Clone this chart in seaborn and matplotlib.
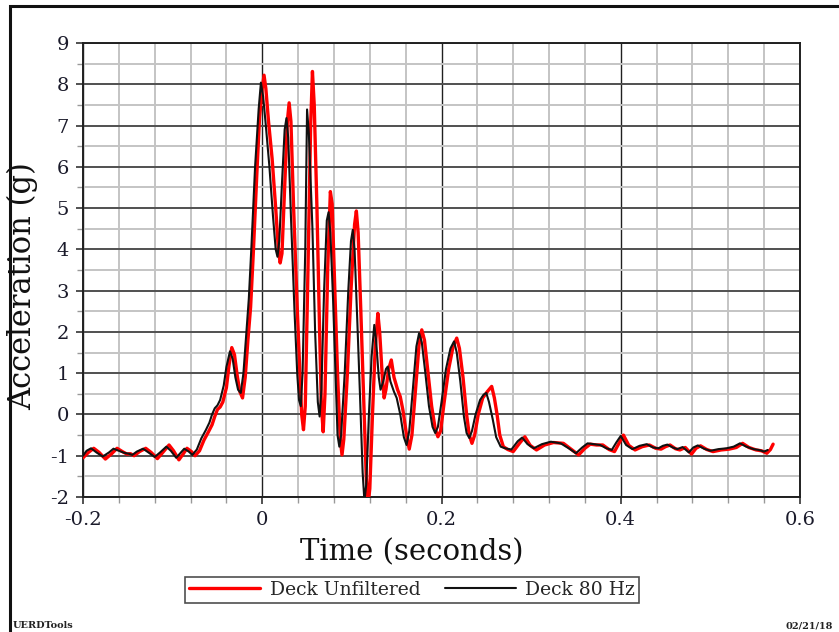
import numpy as np
import pandas as pd
import matplotlib
matplotlib.use("Agg")
import matplotlib.pyplot as plt
import seaborn as sns
from matplotlib.ticker import MultipleLocator
from matplotlib.patches import Rectangle

# ---------------- data ----------------
red_t = [-0.200, -0.194, -0.188, -0.182, -0.175, -0.168, -0.162, -0.156, -0.151, -0.147,
         -0.143, -0.137, -0.130, -0.124, -0.117, -0.111, -0.104, -0.099, -0.093, -0.088,
         -0.084, -0.079, -0.075, -0.070, -0.065, -0.060, -0.056, -0.053, -0.050, -0.047,
         -0.044, -0.040, -0.037, -0.034, -0.031, -0.028, -0.025, -0.022, -0.019, -0.016,
         -0.013, -0.010, -0.006, -0.003, 0.000, 0.002, 0.004, 0.007, 0.011, 0.015,
         0.018, 0.020, 0.022, 0.025, 0.028, 0.030, 0.032, 0.035, 0.039, 0.042,
         0.044, 0.046, 0.048, 0.051, 0.054, 0.056, 0.058, 0.061, 0.064, 0.066,
         0.068, 0.070, 0.073, 0.076, 0.078, 0.081, 0.084, 0.087, 0.089, 0.091,
         0.095, 0.099, 0.103, 0.105, 0.107, 0.110, 0.113, 0.116, 0.118, 0.120,
         0.123, 0.126, 0.129, 0.131, 0.134, 0.136, 0.138, 0.141, 0.144, 0.147,
         0.151, 0.154, 0.157, 0.161, 0.164, 0.167, 0.171, 0.175, 0.178, 0.181,
         0.185, 0.189, 0.193, 0.196, 0.199, 0.203, 0.208, 0.213, 0.217, 0.220,
         0.224, 0.228, 0.231, 0.234, 0.237, 0.241, 0.246, 0.251, 0.256, 0.259,
         0.262, 0.265, 0.269, 0.274, 0.280, 0.287, 0.293, 0.299, 0.306, 0.315,
         0.325, 0.336, 0.345, 0.353, 0.360, 0.366, 0.373, 0.380, 0.387, 0.393,
         0.398, 0.403, 0.409, 0.416, 0.424, 0.432, 0.439, 0.445, 0.450, 0.455,
         0.461, 0.466, 0.472, 0.479, 0.484, 0.489, 0.496, 0.503, 0.512, 0.521,
         0.529, 0.536, 0.543, 0.551, 0.557, 0.563, 0.567, 0.570]
red_v = [-1.05, -0.92, -0.82, -0.92, -1.08, -0.95, -0.82, -0.90, -0.96, -0.95,
         -1.00, -0.90, -0.82, -0.92, -1.07, -0.92, -0.74, -0.88, -1.10, -0.95,
         -0.82, -0.90, -1.00, -0.88, -0.62, -0.42, -0.25, -0.05, 0.12, 0.18,
         0.30, 0.65, 1.20, 1.62, 1.45, 0.95, 0.55, 0.40, 0.90, 1.80,
         2.60, 3.90, 5.85, 7.20, 7.90, 8.22, 7.90, 7.10, 6.20, 5.00,
         4.00, 3.67, 3.90, 5.50, 7.10, 7.55, 7.10, 5.00, 2.60, 1.00,
         0.00, -0.37, 0.20, 3.50, 7.00, 8.31, 7.50, 5.03, 2.00, 0.20,
         -0.42, 0.50, 3.50, 5.40, 5.10, 3.00, 1.00, -0.60, -0.98, -0.60,
         1.00, 3.00, 4.60, 4.93, 4.40, 2.50, 0.50, -1.50, -2.20, -1.80,
         0.00, 1.60, 2.45, 2.00, 0.90, 0.40, 0.60, 1.10, 1.32, 0.90,
         0.60, 0.43, 0.10, -0.50, -0.84, -0.50, 0.60, 1.70, 2.05, 1.80,
         1.00, 0.20, -0.35, -0.54, -0.40, 0.30, 1.10, 1.65, 1.85, 1.60,
         0.90, 0.00, -0.50, -0.70, -0.50, 0.00, 0.40, 0.55, 0.68, 0.40,
         0.00, -0.50, -0.78, -0.85, -0.90, -0.70, -0.54, -0.75, -0.86, -0.74,
         -0.68, -0.70, -0.85, -0.98, -0.82, -0.72, -0.74, -0.74, -0.85, -0.90,
         -0.70, -0.50, -0.75, -0.86, -0.78, -0.74, -0.82, -0.84, -0.78, -0.74,
         -0.83, -0.86, -0.80, -0.96, -0.82, -0.76, -0.85, -0.90, -0.86, -0.84,
         -0.80, -0.70, -0.80, -0.86, -0.88, -0.94, -0.85, -0.72]

blk_t = [-0.200, -0.196, -0.191, -0.185, -0.178, -0.171, -0.166, -0.160, -0.154, -0.149,
         -0.145, -0.140, -0.133, -0.127, -0.120, -0.114, -0.107, -0.102, -0.096, -0.091,
         -0.087, -0.082, -0.078, -0.073, -0.068, -0.063, -0.059, -0.056, -0.053, -0.050,
         -0.047, -0.043, -0.040, -0.036, -0.033, -0.030, -0.027, -0.024, -0.021, -0.018,
         -0.015, -0.012, -0.008, -0.004, -0.0015, 0.001, 0.004, 0.008, 0.012, 0.015,
         0.017, 0.019, 0.022, 0.025, 0.027, 0.029, 0.032, 0.036, 0.039, 0.041,
         0.043, 0.045, 0.048, 0.050, 0.052, 0.056, 0.059, 0.062, 0.064, 0.066,
         0.069, 0.072, 0.074, 0.076, 0.079, 0.082, 0.084, 0.086, 0.088, 0.092,
         0.096, 0.099, 0.101, 0.103, 0.106, 0.109, 0.112, 0.114, 0.116, 0.119,
         0.122, 0.125, 0.127, 0.130, 0.132, 0.135, 0.138, 0.140, 0.143, 0.147,
         0.150, 0.154, 0.158, 0.161, 0.164, 0.168, 0.172, 0.175, 0.178, 0.182,
         0.186, 0.190, 0.193, 0.196, 0.200, 0.205, 0.210, 0.214, 0.217, 0.221,
         0.225, 0.228, 0.231, 0.234, 0.238, 0.243, 0.247, 0.250, 0.253, 0.257,
         0.261, 0.266, 0.271, 0.278, 0.285, 0.290, 0.296, 0.303, 0.312, 0.322,
         0.333, 0.342, 0.350, 0.357, 0.363, 0.370, 0.377, 0.384, 0.390, 0.395,
         0.400, 0.406, 0.413, 0.421, 0.429, 0.436, 0.442, 0.447, 0.452, 0.458,
         0.463, 0.469, 0.476, 0.481, 0.486, 0.493, 0.500, 0.509, 0.518, 0.526,
         0.533, 0.540, 0.548, 0.554, 0.560, 0.564]
blk_v = [-1.00, -0.88, -0.82, -0.92, -1.02, -0.92, -0.83, -0.88, -0.93, -0.95,
         -0.98, -0.90, -0.83, -0.92, -1.03, -0.92, -0.78, -0.88, -1.05, -0.93,
         -0.83, -0.90, -0.98, -0.85, -0.58, -0.38, -0.20, 0.00, 0.15, 0.22,
         0.35, 0.70, 1.15, 1.53, 1.35, 0.90, 0.60, 0.52, 1.00, 1.90,
         2.80, 4.10, 6.00, 7.40, 8.04, 7.70, 7.00, 6.00, 4.80, 4.00,
         3.82, 4.20, 5.60, 6.90, 7.18, 6.70, 4.80, 2.50, 1.00, 0.35,
         0.20, 1.00, 4.00, 7.39, 6.80, 4.50, 2.00, 0.30, -0.05, 0.60,
         3.00, 4.70, 4.90, 4.40, 2.80, 0.80, -0.50, -0.78, -0.50, 1.00,
         3.00, 4.20, 4.47, 4.00, 2.30, 0.50, -1.40, -2.10, -1.70, 0.00,
         1.40, 2.17, 1.80, 0.90, 0.60, 0.80, 1.10, 1.16, 0.80, 0.55,
         0.40, 0.00, -0.55, -0.74, -0.40, 0.60, 1.65, 1.97, 1.75, 1.00,
         0.20, -0.30, -0.45, -0.30, 0.30, 1.10, 1.60, 1.77, 1.50, 0.80,
         -0.05, -0.45, -0.57, -0.40, 0.00, 0.35, 0.48, 0.52, 0.30, -0.10,
         -0.55, -0.78, -0.82, -0.85, -0.65, -0.56, -0.72, -0.82, -0.72, -0.66,
         -0.70, -0.82, -0.94, -0.80, -0.70, -0.72, -0.74, -0.82, -0.86, -0.68,
         -0.52, -0.74, -0.84, -0.76, -0.72, -0.80, -0.82, -0.76, -0.73, -0.80,
         -0.84, -0.79, -0.92, -0.80, -0.75, -0.83, -0.88, -0.84, -0.82, -0.78,
         -0.70, -0.78, -0.84, -0.86, -0.90, -0.86]

series_names = ["Deck Unfiltered", "Deck 80 Hz"]
x_ticks = [-0.2, 0, 0.2, 0.4, 0.6]
x_ticklabels = ["-0.2", "0", "0.2", "0.4", "0.6"]
y_ticks = list(range(-2, 10))
y_ticklabels = [str(v) for v in y_ticks]

df_red = pd.DataFrame({"t": red_t, "v": red_v})
df_blk = pd.DataFrame({"t": blk_t, "v": blk_v})

# ---------------- styling ----------------
sns.set_style("white")
plt.rcParams["font.family"] = ["DejaVu Serif", "DejaVu Sans"]

fig = plt.figure(figsize=(8.39, 6.32), dpi=100)
ax = fig.add_axes([83 / 839, 1 - 497 / 632, (800 - 83) / 839, (497 - 43) / 632])

sns.lineplot(data=df_red, x="t", y="v", ax=ax, color="#ff0000", lw=2.4,
             label=series_names[0], sort=False, zorder=4)
sns.lineplot(data=df_blk, x="t", y="v", ax=ax, color="#111111", lw=1.5,
             label=series_names[1], sort=False, zorder=5)

ax.set_xlim(-0.2, 0.6)
ax.set_ylim(-2, 9)
ax.xaxis.set_minor_locator(MultipleLocator(0.04))
ax.yaxis.set_minor_locator(MultipleLocator(0.5))
ax.set_xticks(x_ticks)
ax.set_xticklabels(x_ticklabels)
ax.set_yticks(y_ticks)
ax.set_yticklabels(y_ticklabels)

ax.grid(which="minor", color="#c4c4c4", lw=1.4, zorder=0)
ax.grid(which="major", axis="y", color="#505050", lw=1.4, zorder=1)
ax.grid(which="major", axis="x", color="#202020", lw=1.0, zorder=1)
ax.set_axisbelow(True)

for s in ax.spines.values():
    s.set_color("#202020")
    s.set_linewidth(1.4)

ax.tick_params(which="major", direction="out", length=5, width=1.2, color="#333",
               labelsize=14, labelcolor="#1a1a2a", pad=5)
ax.tick_params(which="minor", direction="out", length=4, width=1.0, color="#999")
ax.tick_params(axis="both", which="both", bottom=True, left=True)

ax.set_xlabel("Time (seconds)", fontsize=21, color="#111")
ax.set_ylabel("Acceleration (g)", fontsize=22, color="#111")
ax.xaxis.set_label_coords(0.459, -0.092)
ax.yaxis.set_label_coords(-0.063, 0.465)

leg = fig.legend(handles=ax.get_lines()[:2], labels=series_names, loc="center",
                 bbox_to_anchor=(412 / 839, 1 - 590 / 632), ncol=2, frameon=True,
                 fancybox=False, shadow=False, fontsize=13.5, handlelength=3.8,
                 columnspacing=1.3, handletextpad=0.5, borderpad=0.2,
                 edgecolor="#222")
leg.get_frame().set_linewidth(1.2)
ax.get_legend().remove()

# figure frame
fig.patches.append(Rectangle((10 / 839, -0.05), 1.2, 1 - 6 / 632 + 0.05,
                             transform=fig.transFigure, fill=False,
                             edgecolor="#111", lw=2.2, clip_on=False))

fig.text(13 / 839, 1 - 626 / 632, "UERDTools", fontsize=7, fontweight="bold",
         color="#222", va="center", ha="left")
fig.text(786 / 839, 1 - 626 / 632, "02/21/18", fontsize=7, fontweight="bold",
         color="#222", va="center", ha="left")

fig.savefig("out.png", dpi=100)
